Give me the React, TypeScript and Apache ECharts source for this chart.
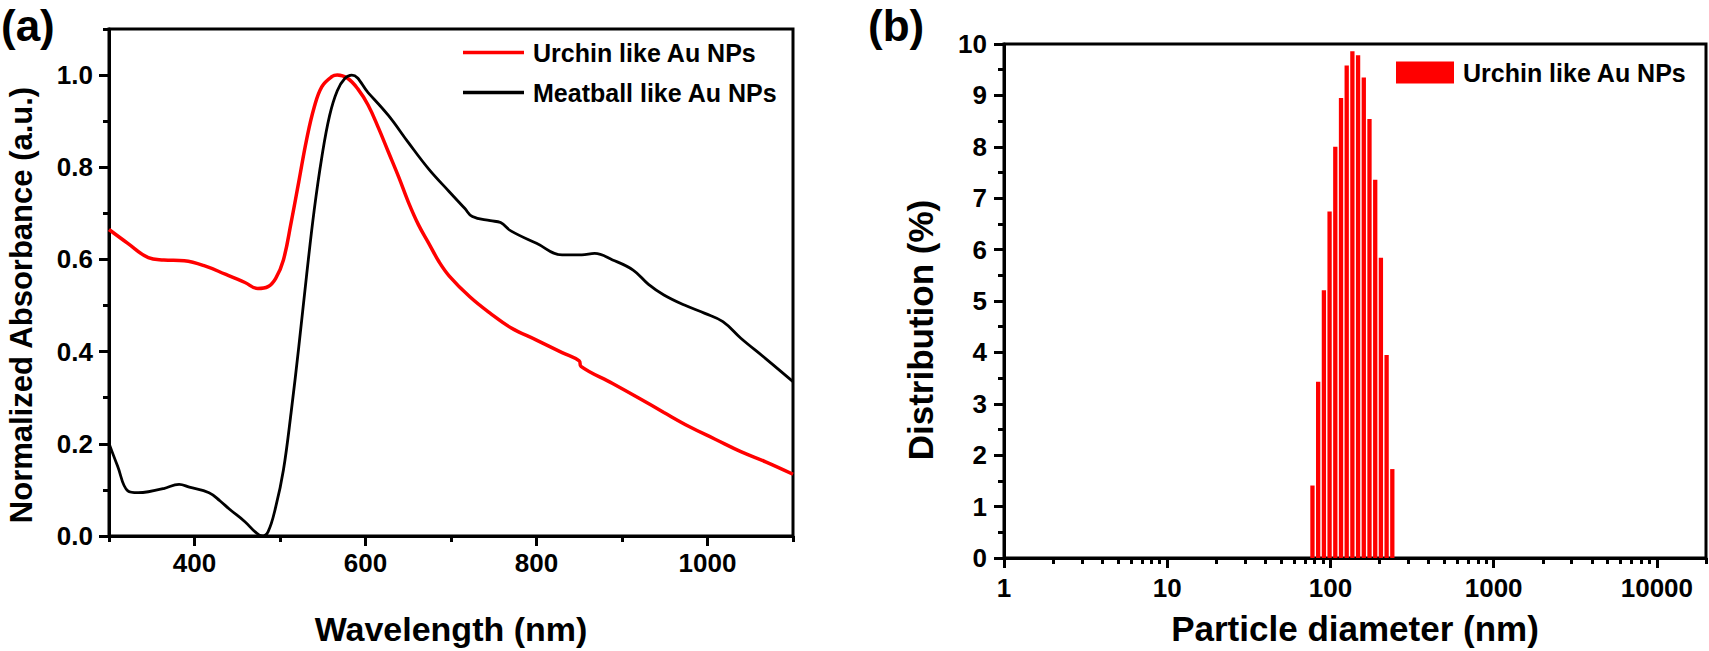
import React, { useEffect, useRef } from "react";
import * as echarts from "echarts";

const FONT = "'Liberation Sans', Arial, Helvetica, sans-serif";

// UV-vis spectra (normalized absorbance)
const urchinWavelength = [
  300, 322, 346, 364, 388, 412, 436, 459, 474, 486, 495, 504, 513, 522, 531, 540, 549, 561, 567, 579, 591,
  603, 615, 627, 639, 650, 662, 674, 686, 698, 722, 746, 770, 800, 830, 850, 852, 889, 919, 949, 979, 1009,
  1039, 1068, 1100,
];
const urchinAbsorbance = [
  0.665, 0.635, 0.604, 0.599, 0.597, 0.586, 0.568, 0.55, 0.537, 0.541, 0.559, 0.599, 0.68, 0.769, 0.859,
  0.93, 0.975, 0.997, 1.0, 0.993, 0.97, 0.935, 0.886, 0.832, 0.778, 0.725, 0.675, 0.635, 0.595, 0.564, 0.519,
  0.483, 0.452, 0.425, 0.398, 0.38, 0.368, 0.331, 0.3, 0.268, 0.237, 0.21, 0.183, 0.161, 0.134,
];
const meatballWavelength = [
  300, 310, 322, 334, 346, 364, 382, 394, 417, 430, 441, 459, 471, 479, 486, 495, 504, 513, 522, 531, 540,
  549, 558, 567, 576, 584, 603, 627, 650, 674, 698, 716, 725, 746, 758, 770, 800, 830, 853, 868, 889, 913,
  931, 949, 973, 997, 1018, 1039, 1068, 1100,
];
const meatballAbsorbance = [
  0.201, 0.152, 0.098, 0.094, 0.096, 0.103, 0.112, 0.106, 0.094, 0.076, 0.058, 0.031, 0.009, 0.0, 0.009,
  0.063, 0.143, 0.268, 0.411, 0.564, 0.707, 0.823, 0.912, 0.966, 0.993, 1.0, 0.962, 0.912, 0.854, 0.796,
  0.747, 0.711, 0.693, 0.684, 0.68, 0.662, 0.635, 0.61, 0.61, 0.613, 0.599, 0.577, 0.546, 0.523, 0.501,
  0.483, 0.465, 0.429, 0.385, 0.335,
];
const wavelengthTicks = [400, 600, 800, 1000];
const wavelengthMinorTicks = [300, 500, 700, 900, 1100];
const absorbanceTicks = [0, 0.2, 0.4, 0.6, 0.8, 1.0];
const absorbanceMinorTicks = [0.1, 0.3, 0.5, 0.7, 0.9, 1.1];

// DLS size distribution
const particleDiameter = [
  77.6, 84.1, 91.2, 98.8, 107.1, 116.1, 125.8, 136.3, 147.7, 160.1, 173.5, 188.1, 203.8, 220.9, 239.4,
];
const distribution = [1.41, 3.43, 5.21, 6.74, 8.0, 8.95, 9.58, 9.86, 9.78, 9.35, 8.54, 7.36, 5.84, 3.95, 1.73];
const diameterTicks = [1, 10, 100, 1000, 10000];
const diameterMinorTicks = [
  2, 3, 4, 5, 6, 7, 8, 9, 20, 30, 40, 50, 60, 70, 80, 90, 200, 300, 400, 500, 600, 700, 800, 900, 2000, 3000,
  4000, 5000, 6000, 7000, 8000, 9000, 20000,
];
const distributionTicks = [0, 1, 2, 3, 4, 5, 6, 7, 8, 9, 10];
const distributionMinorTicks = [0.5, 1.5, 2.5, 3.5, 4.5, 5.5, 6.5, 7.5, 8.5, 9.5];

const URCHIN = "Urchin like Au NPs";
const MEATBALL = "Meatball like Au NPs";
const URCHIN_DLS = "Urchin like Au NPs DLS";

const LINE_W = 3;
const labelText = { fontFamily: FONT, fontWeight: "bold" as const, fontSize: 26, color: "#000" };

function majorAxis(o: any) {
  return {
    splitLine: { show: false },
    axisLine: { show: true, onZero: false, lineStyle: { color: "#000", width: LINE_W } },
    ...o,
    axisTick: { show: true, inside: false, length: 10, lineStyle: { color: "#000", width: LINE_W }, ...o.axisTick },
  };
}

function minorAxis(o: any) {
  return {
    splitLine: { show: false },
    axisLine: { show: false, onZero: false },
    axisLabel: { show: false },
    ...o,
    axisTick: { show: true, inside: false, length: 6, lineStyle: { color: "#000", width: LINE_W }, ...o.axisTick },
  };
}

const plain = (v: number) => String(v);

export default function App() {
  const ref = useRef<HTMLDivElement>(null);

  useEffect(() => {
    if (!ref.current) return;
    const chart = echarts.init(ref.current, undefined, { renderer: "svg" });

    const option: any = {
      animation: false,
      backgroundColor: "#fff",
      grid: [
        { left: 109, top: 29, width: 684, height: 511, show: true, borderColor: "#000", borderWidth: LINE_W, backgroundColor: "transparent" },
        { left: 1004, top: 44, width: 702, height: 519, show: true, borderColor: "#000", borderWidth: LINE_W, backgroundColor: "transparent" },
      ],
      xAxis: [
        majorAxis({
          type: "value", gridIndex: 0, position: "bottom", min: 300, max: 1100,
          axisTick: { customValues: wavelengthTicks },
          axisLabel: { ...labelText, margin: 14, customValues: wavelengthTicks, formatter: plain },
          name: "Wavelength (nm)", nameLocation: "middle", nameGap: 76,
          nameTextStyle: { fontFamily: FONT, fontWeight: "bold", fontSize: 34, color: "#000" },
        }),
        minorAxis({
          type: "value", gridIndex: 0, position: "bottom", min: 300, max: 1100,
          axisTick: { customValues: wavelengthMinorTicks },
        }),
        majorAxis({
          type: "log", logBase: 10, gridIndex: 1, position: "bottom", min: 1, max: 20000,
          axisTick: { customValues: diameterTicks },
          axisLabel: { ...labelText, margin: 17, customValues: diameterTicks, formatter: plain },
          name: "Particle diameter (nm)", nameLocation: "middle", nameGap: 53,
          nameTextStyle: { fontFamily: FONT, fontWeight: "bold", fontSize: 35, color: "#000" },
        }),
        minorAxis({
          type: "log", logBase: 10, gridIndex: 1, position: "bottom", min: 1, max: 20000,
          axisTick: { customValues: diameterMinorTicks },
        }),
      ],
      yAxis: [
        majorAxis({
          type: "value", gridIndex: 0, position: "left", min: 0, max: 1.1,
          axisTick: { customValues: absorbanceTicks },
          axisLabel: { ...labelText, margin: 16, customValues: absorbanceTicks, formatter: (v: number) => v.toFixed(1) },
        }),
        minorAxis({
          type: "value", gridIndex: 0, position: "left", min: 0, max: 1.1,
          axisTick: { customValues: absorbanceMinorTicks },
        }),
        majorAxis({
          type: "value", gridIndex: 1, position: "left", min: 0, max: 10,
          axisTick: { customValues: distributionTicks },
          axisLabel: { ...labelText, margin: 17, customValues: distributionTicks, formatter: plain },
        }),
        minorAxis({
          type: "value", gridIndex: 1, position: "left", min: 0, max: 10,
          axisTick: { customValues: distributionMinorTicks },
        }),
      ],
      legend: [
        {
          orient: "vertical", left: 463, top: 40, padding: 0, itemGap: 15, itemWidth: 61, itemHeight: 3.5,
          icon: "rect",
          data: [URCHIN, MEATBALL],
          textStyle: { fontFamily: FONT, fontWeight: "bold", fontSize: 25, color: "#000", padding: [0, 0, 0, 4] },
        },
        {
          orient: "vertical", left: 1396, top: 60, padding: 0, itemWidth: 58, itemHeight: 22, icon: "rect",
          data: [URCHIN_DLS],
          formatter: () => URCHIN,
          textStyle: { fontFamily: FONT, fontWeight: "bold", fontSize: 25, color: "#000", padding: [0, 0, 0, 4] },
        },
      ],
      graphic: [
        { type: "text", left: 1, top: 3, style: { text: "(a)", fontFamily: FONT, fontWeight: "bold", fontSize: 44, fill: "#000" } },
        { type: "text", left: 868, top: 3, style: { text: "(b)", fontFamily: FONT, fontWeight: "bold", fontSize: 44, fill: "#000" } },
        {
          type: "text", x: 21, y: 305, rotation: Math.PI / 2,
          style: {
            text: "Normalized Absorbance (a.u.)", fontFamily: FONT, fontWeight: "bold", fontSize: 31, fill: "#000",
            align: "center", verticalAlign: "middle", textAlign: "center", textVerticalAlign: "middle",
          },
        },
        {
          type: "text", x: 920, y: 330, rotation: Math.PI / 2,
          style: {
            text: "Distribution (%)", fontFamily: FONT, fontWeight: "bold", fontSize: 35, fill: "#000",
            align: "center", verticalAlign: "middle", textAlign: "center", textVerticalAlign: "middle",
          },
        },
      ],
      series: [
        {
          name: URCHIN, type: "line", xAxisIndex: 0, yAxisIndex: 0, showSymbol: false, symbol: "none",
          smooth: 0.4, clip: true,
          lineStyle: { color: "#ff0000", width: 3.5 }, itemStyle: { color: "#ff0000" },
          data: urchinWavelength.map((w, i) => [w, urchinAbsorbance[i]]),
        },
        {
          name: MEATBALL, type: "line", xAxisIndex: 0, yAxisIndex: 0, showSymbol: false, symbol: "none",
          smooth: 0.4, clip: true,
          lineStyle: { color: "#000", width: 2.8 }, itemStyle: { color: "#000" },
          data: meatballWavelength.map((w, i) => [w, meatballAbsorbance[i]]),
        },
        {
          name: URCHIN_DLS, type: "bar", xAxisIndex: 2, yAxisIndex: 2, barWidth: 4.3,
          itemStyle: { color: "#ff0000" },
          data: particleDiameter.map((d, i) => [d, distribution[i]]),
        },
      ],
    };

    chart.setOption(option);
    return () => chart.dispose();
  }, []);

  return (
    <div
      ref={ref}
      style={{ position: "absolute", left: 0, top: 0, width: 1709, height: 651 }}
    />
  );
}
